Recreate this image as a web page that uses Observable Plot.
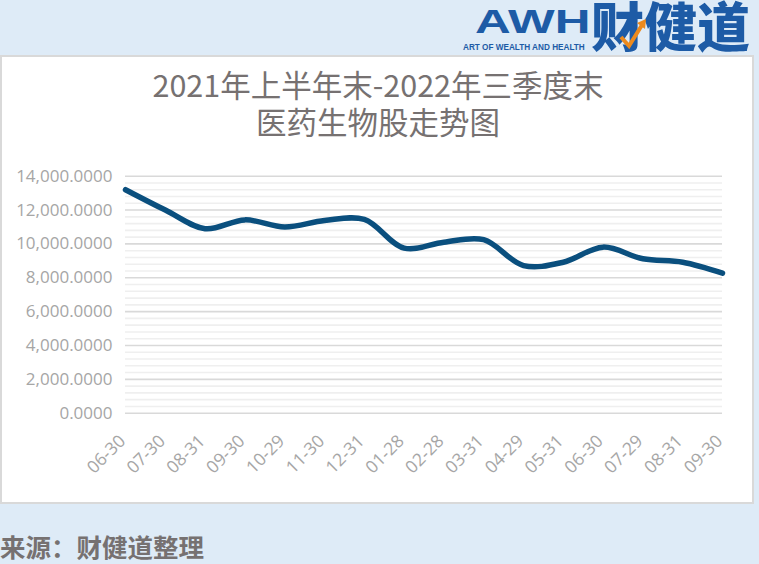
<!DOCTYPE html>
<html>
<head>
<meta charset="utf-8">
<script src="https://cdn.jsdelivr.net/npm/d3@7"></script>
<script src="https://cdn.jsdelivr.net/npm/@observablehq/plot@0.6"></script>
<style>
  html, body { margin: 0; padding: 0; }
  body { width: 759px; height: 564px; background: #deebf7; position: relative; overflow: hidden; font-family: "Noto Sans CJK SC", "Open Sans", sans-serif; }
  #panel { position: absolute; left: 0; top: 55px; width: 750px; height: 445px; background: #fff; border: 2px solid #d9d9d9; }
  #title { position: absolute; left: 0; width: 756px; top: 66px; text-align: center; color: #767171; font-size: 30.5px; line-height: 37px; font-family: "Noto Sans CJK SC", sans-serif; }
  #chart { position: absolute; left: 0; top: 150px; }
  #caption { position: absolute; left: 0; top: 530px; font-size: 25.5px; font-weight: 700; color: #767171; font-family: "Noto Sans CJK SC", sans-serif; line-height: 32px; }
  #logo { position: absolute; left: 450px; top: 0; }
</style>
</head>
<body>
<svg id="logo" width="309" height="54" viewBox="0 0 309 54">
  <text transform="translate(25,33) scale(1.5,1)" x="0" y="0" font-family="Liberation Sans, Arial, sans-serif" font-weight="700" font-size="33" fill="#1d5ba6">AWH</text>
  <text x="13" y="50" font-family="Liberation Sans, Arial, sans-serif" font-weight="700" font-size="8.2" fill="#1d5ba6">ART OF WEALTH AND HEALTH</text>
  <text x="141" y="47" font-family="Noto Sans CJK SC, sans-serif" font-weight="900" font-size="53" fill="#1d5ba6">财健道</text>
  <path d="M 171 37 L 179 46 L 192 25" fill="none" stroke="#ec8a1d" stroke-width="4"/>
  <path d="M 187 23 L 196 19 L 195 29 Z" fill="#ec8a1d"/>
</svg>
<div id="panel"></div>
<div id="title">2021年上半年末-2022年三季度末<br>医药生物股走势图</div>
<div id="chart"></div>
<div id="caption">来源：财健道整理</div>
<script>
// ---- data ----
const dates = ["2021-06-30","2021-07-30","2021-08-31","2021-09-30","2021-10-29","2021-11-30","2021-12-31",
               "2022-01-28","2022-02-28","2022-03-31","2022-04-29","2022-05-31","2022-06-30","2022-07-29","2022-08-31","2022-09-30"];
const tickLabels = ["06-30","07-30","08-31","09-30","10-29","11-30","12-31","01-28","02-28","03-31","04-29","05-31","06-30","07-29","08-31","09-30"];
const values = [13200, 12000, 10900, 11420, 11000, 11380, 11450, 9750, 10100, 10250, 8720, 8920, 9810, 9120, 8920, 8270];
const majorTicks = [0, 2000, 4000, 6000, 8000, 10000, 12000, 14000];
const minorTicks = [400,800,1200,1600, 2400,2800,3200,3600, 4400,4800,5200,5600, 6400,6800,7200,7600,
                    8400,8800,9200,9600, 10400,10800,11200,11600, 12400,12800,13200,13600];

const data = dates.map((d, i) => ({date: d, value: values[i]}));
const labelOf = new Map(dates.map((d, i) => [d, tickLabels[i]]));

const H = 340;
const chart = Plot.plot({
  width: 759,
  height: H,
  marginLeft: 125,
  marginRight: 37,
  marginTop: 25.7,
  marginBottom: H - 262.7,
  style: {fontFamily: "'Open Sans', sans-serif", background: "transparent", overflow: "visible"},
  x: {type: "point", domain: dates, padding: 0, round: false},
  y: {domain: [0, 14000]},
  marks: [
    Plot.ruleY(minorTicks, {stroke: "#efefef", strokeWidth: 1.6}),
    Plot.ruleY(majorTicks, {stroke: "#d9d9d9", strokeWidth: 1.6}),
    Plot.axisY({ticks: majorTicks, tickSize: 0, tickPadding: 13, tickFormat: d3.format(",.4f"),
                fontSize: 17, fill: "#a6a6a6", color: "#a6a6a6", label: null}),
    Plot.axisX({tickSize: 0, tickPadding: 25, dx: -3, tickRotate: -45, tickFormat: d => labelOf.get(d),
                fontSize: 17.5, fill: "#a6a6a6", color: "#a6a6a6", label: null}),
    Plot.line(data, {x: "date", y: "value", curve: "catmull-rom", stroke: "#0a4f7e", strokeWidth: 5.5})
  ]
});
document.getElementById("chart").appendChild(chart);
</script>
</body>
</html>
